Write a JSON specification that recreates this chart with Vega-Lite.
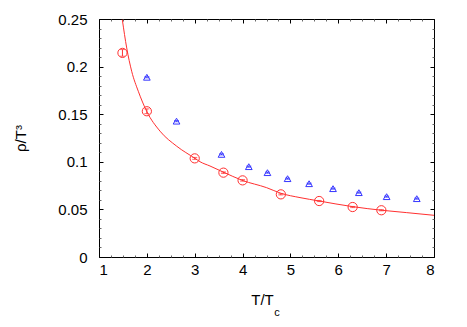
{
  "$schema": "https://vega.github.io/schema/vega-lite/v6.json",
  "width": 335,
  "height": 238,
  "autosize": {"type": "none"},
  "padding": {"left": 99, "top": 19, "right": 33, "bottom": 70},
  "background": "white",
  "view": {"stroke": "black", "strokeWidth": 1},
  "config": {
    "font": "Liberation Sans",
    "axis": {
      "grid": false,
      "domain": false,
      "labelFont": "Liberation Sans",
      "labelFontSize": 15,
      "labelColor": "black",
      "titleFont": "Liberation Sans",
      "titleFontSize": 15,
      "titleFontWeight": "normal",
      "titleColor": "black"
    }
  },
  "datasets": {
    "circles": [
      {"t": 1.49, "rho": 0.2144, "err": 0.0035},
      {"t": 2.0, "rho": 0.1531, "err": 0.0025},
      {"t": 3.0, "rho": 0.1036, "err": 0.001},
      {"t": 3.6, "rho": 0.0886, "err": 0.0008},
      {"t": 4.0, "rho": 0.0805, "err": 0.0008},
      {"t": 4.8, "rho": 0.0658, "err": 0.0006},
      {"t": 5.6, "rho": 0.0588, "err": 0.0006},
      {"t": 6.3, "rho": 0.0525, "err": 0.0006},
      {"t": 6.9, "rho": 0.0491, "err": 0.0006}
    ],
    "triangles": [
      {"t": 2.0, "rho": 0.1888, "err": 0.0006},
      {"t": 2.62, "rho": 0.1427, "err": 0.0006},
      {"t": 3.56, "rho": 0.1078, "err": 0.0006},
      {"t": 4.13, "rho": 0.0949, "err": 0.0006},
      {"t": 4.52, "rho": 0.0886, "err": 0.0006},
      {"t": 4.94, "rho": 0.0823, "err": 0.0006},
      {"t": 5.39, "rho": 0.077, "err": 0.0006},
      {"t": 5.89, "rho": 0.0718, "err": 0.0006},
      {"t": 6.43, "rho": 0.0676, "err": 0.0006},
      {"t": 7.01, "rho": 0.0634, "err": 0.0006},
      {"t": 7.64, "rho": 0.0613, "err": 0.0006}
    ],
    "curve": [
      {"t": 1.487, "rho": 0.2493},
      {"t": 1.579, "rho": 0.2196},
      {"t": 1.683, "rho": 0.1951},
      {"t": 1.821, "rho": 0.1741},
      {"t": 1.997, "rho": 0.153},
      {"t": 2.275, "rho": 0.1322},
      {"t": 2.623, "rho": 0.1164},
      {"t": 3.006, "rho": 0.1036},
      {"t": 3.11, "rho": 0.1001},
      {"t": 3.319, "rho": 0.0956},
      {"t": 3.597, "rho": 0.0892},
      {"t": 3.994, "rho": 0.0805},
      {"t": 4.504, "rho": 0.0728},
      {"t": 4.803, "rho": 0.0669},
      {"t": 5.2, "rho": 0.0624},
      {"t": 5.603, "rho": 0.0588},
      {"t": 6.3, "rho": 0.0529},
      {"t": 6.907, "rho": 0.0491},
      {"t": 7.43, "rho": 0.0466},
      {"t": 8.0, "rho": 0.0438}
    ],
    "sub": [
      {"t": 4.72, "rho": -0.0585, "s": "c"}
    ]
  },
  "layer": [
    {
      "data": {"name": "curve"},
      "mark": {"type": "line", "stroke": "#ff3030", "strokeWidth": 1, "interpolate": "monotone"},
      "encoding": {
        "x": {
          "field": "t", "type": "quantitative",
          "scale": {"domain": [1, 8], "nice": false, "zero": false},
          "axis": {
            "orient": "top", "title": null, "labels": false,
            "values": [1,1.25,1.5,1.75,2,2.25,2.5,2.75,3,3.25,3.5,3.75,4,4.25,4.5,4.75,5,5.25,5.5,5.75,6,6.25,6.5,6.75,7,7.25,7.5,7.75,8],
            "tickSize": {"condition": {"test": "datum.value % 1 === 0", "value": -4}, "value": -2},
            "tickColor": {"condition": {"test": "datum.value % 1 === 0", "value": "black"}, "value": "#666666"}
          }
        },
        "y": {
          "field": "rho", "type": "quantitative",
          "scale": {"domain": [0, 0.25], "nice": false},
          "axis": {
            "orient": "right", "title": null, "labels": false,
            "values": [0,0.01,0.02,0.03,0.04,0.05,0.06,0.07,0.08,0.09,0.1,0.11,0.12,0.13,0.14,0.15,0.16,0.17,0.18,0.19,0.2,0.21,0.22,0.23,0.24,0.25],
            "tickSize": {"condition": {"test": "abs(datum.value*20 - round(datum.value*20)) < 1e-6", "value": -4}, "value": -2},
            "tickColor": {"condition": {"test": "abs(datum.value*20 - round(datum.value*20)) < 1e-6", "value": "black"}, "value": "#666666"}
          }
        }
      }
    },
    {
      "data": {"name": "circles"},
      "mark": {"type": "point", "shape": "circle", "filled": false, "stroke": "#ff3030", "strokeWidth": 1, "size": 85, "opacity": 1},
      "encoding": {
        "x": {
          "field": "t", "type": "quantitative",
          "axis": {
            "orient": "bottom", "title": "T/T", "titleX": 163, "titleAlign": "center",
            "values": [1,1.25,1.5,1.75,2,2.25,2.5,2.75,3,3.25,3.5,3.75,4,4.25,4.5,4.75,5,5.25,5.5,5.75,6,6.25,6.5,6.75,7,7.25,7.5,7.75,8],
            "labelExpr": "datum.value % 1 === 0 ? format(datum.value, '~g') : ''",
            "labelPadding": 9,
            "titlePadding": 15,
            "tickSize": {"condition": {"test": "datum.value % 1 === 0", "value": -4}, "value": -2},
            "tickColor": {"condition": {"test": "datum.value % 1 === 0", "value": "black"}, "value": "#666666"}
          }
        },
        "y": {
          "field": "rho", "type": "quantitative",
          "axis": {
            "orient": "left", "title": "ρ/T³",
            "values": [0,0.01,0.02,0.03,0.04,0.05,0.06,0.07,0.08,0.09,0.1,0.11,0.12,0.13,0.14,0.15,0.16,0.17,0.18,0.19,0.2,0.21,0.22,0.23,0.24,0.25],
            "labelExpr": "abs(datum.value*20 - round(datum.value*20)) < 1e-6 ? format(datum.value, '~g') : ''",
            "labelPadding": 16,
            "titlePadding": 29,
            "tickSize": {"condition": {"test": "abs(datum.value*20 - round(datum.value*20)) < 1e-6", "value": -4}, "value": -2},
            "tickColor": {"condition": {"test": "abs(datum.value*20 - round(datum.value*20)) < 1e-6", "value": "black"}, "value": "#666666"}
          }
        }
      }
    },
    {
      "data": {"name": "circles"},
      "mark": {"type": "errorbar", "ticks": {"size": 5, "color": "#ff3030"}, "rule": {"color": "#ff3030"}},
      "encoding": {
        "x": {"field": "t", "type": "quantitative", "axis": null},
        "y": {"field": "rho", "type": "quantitative", "axis": null},
        "yError": {"field": "err"}
      }
    },
    {
      "data": {"name": "triangles"},
      "mark": {"type": "point", "shape": "triangle-up", "filled": false, "stroke": "#3535ff", "strokeWidth": 1, "size": 45, "opacity": 1},
      "encoding": {
        "x": {"field": "t", "type": "quantitative", "axis": null},
        "y": {"field": "rho", "type": "quantitative", "axis": null}
      }
    },
    {
      "data": {"name": "triangles"},
      "mark": {"type": "errorbar", "ticks": {"size": 5, "color": "#3535ff"}, "rule": {"color": "#3535ff"}},
      "encoding": {
        "x": {"field": "t", "type": "quantitative", "axis": null},
        "y": {"field": "rho", "type": "quantitative", "axis": null},
        "yError": {"field": "err"}
      }
    },
    {
      "data": {"name": "sub"},
      "mark": {"type": "text", "fontSize": 11, "font": "Liberation Sans", "color": "black"},
      "encoding": {
        "x": {"field": "t", "type": "quantitative", "axis": null},
        "y": {"field": "rho", "type": "quantitative", "axis": null},
        "text": {"field": "s"}
      }
    }
  ],
  "resolve": {"axis": {"x": "independent", "y": "independent"}}
}
